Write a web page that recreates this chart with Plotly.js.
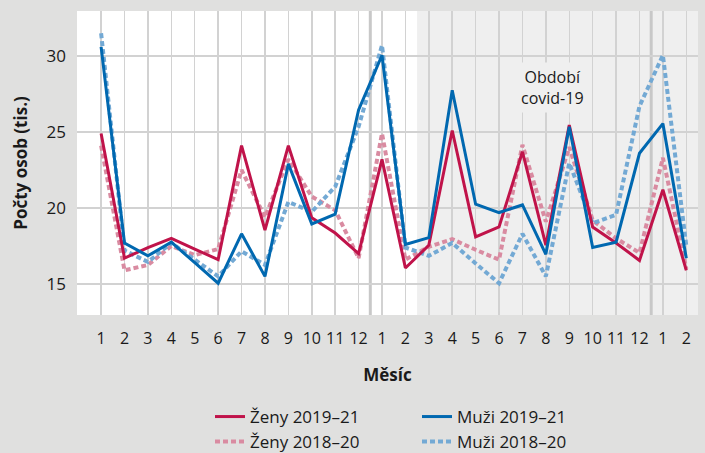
<!DOCTYPE html>
<html>
<head>
<meta charset="utf-8">
<script src="https://cdn.plot.ly/plotly-3.0.1.min.js"></script>
<style>
html,body{margin:0;padding:0;background:#e0e0df;}
#chart{width:705px;height:453px;}
</style>
</head>
<body>
<div id="chart"></div>
<script>
const monthLabels = ['1','2','3','4','5','6','7','8','9','10','11','12','1','2','3','4','5','6','7','8','9','10','11','12','1','2'];
const xPos = [1,2,3,4,5,6,7,8,9,10,11,12,13,14,15,16,17,18,19,20,21,22,23,24,25,26];
const zeny1921 = [24.9,16.7,17.4,18.0,17.3,16.6,24.1,18.55,24.1,19.35,18.35,17.0,23.2,16.05,17.55,25.1,18.1,18.75,23.7,17.55,25.45,18.75,17.7,16.55,21.2,15.9];
const zeny1820 = [24.1,15.9,16.25,17.5,16.9,17.3,22.5,19.4,23.2,20.75,19.85,16.7,24.9,16.6,17.45,17.95,17.25,16.6,24.15,19.1,24.0,19.2,18.0,17.05,23.3,16.0];
const muzi1921 = [30.6,17.7,16.85,17.75,16.4,15.05,18.3,15.5,22.9,18.95,19.6,26.45,30.05,17.6,18.05,27.75,20.25,19.7,20.2,16.95,25.35,17.4,17.75,23.6,25.55,16.7];
const muzi1820 = [31.5,17.2,16.45,17.7,16.6,15.5,17.15,16.25,20.4,19.75,21.4,25.35,30.7,17.4,16.85,17.7,16.35,15.05,18.3,15.5,22.95,19.0,19.55,26.7,30.05,17.5];
const seriesNames = ['Ženy 2019–21','Muži 2019–21','Ženy 2018–20','Muži 2018–20'];
const yearBreaks = [12.5, 24.5];
const covidStart = 14.5;
const covidLabel = 'Období<br>covid-19';

const FONT = 'Open Sans, sans-serif';
const cRed = '#c0134a', cBlue = '#0068b0', cRedL = '#d98ba1', cBlueL = '#73a9d4';

const traces = [
  {x:xPos, y:zeny1820, name:seriesNames[2], mode:'lines', line:{color:cRedL, width:4, dash:'5px,3px'}, legend:'legend2', legendrank:1},
  {x:xPos, y:muzi1820, name:seriesNames[3], mode:'lines', line:{color:cBlueL, width:4, dash:'5px,3px'}, legend:'legend2', legendrank:2},
  {x:xPos, y:zeny1921, name:seriesNames[0], mode:'lines', line:{color:cRed, width:3}, legend:'legend', legendrank:1},
  {x:xPos, y:muzi1921, name:seriesNames[1], mode:'lines', line:{color:cBlue, width:3}, legend:'legend', legendrank:2}
];

const shapes = [
  {type:'rect', xref:'x', yref:'paper', x0:covidStart, x1:26.5, y0:0, y1:1, fillcolor:'#efefef', line:{width:0}, layer:'below'}
].concat(yearBreaks.map(v => ({type:'line', xref:'x', yref:'paper', x0:v, x1:v, y0:0, y1:1, line:{color:'#c8c8c8', width:3}, layer:'below'})));

const legendCommon = {orientation:'h', xref:'container', yref:'container', xanchor:'left', yanchor:'top',
  entrywidth:162, entrywidthmode:'pixels', font:{family:FONT, size:17, color:'#1a1a1a'}, bgcolor:'rgba(0,0,0,0)', traceorder:'normal'};

const layout = {
  width:705, height:453,
  paper_bgcolor:'#e0e0df', plot_bgcolor:'#ffffff',
  margin:{l:77, r:7, t:11, b:138},
  font:{family:FONT, color:'#1a1a1a'},
  showlegend:true,
  xaxis:{range:[-0.03,26.5], tickvals:xPos, ticktext:monthLabels, showgrid:true, gridcolor:'#d2d2d2', gridwidth:1.5,
    zeroline:false, showline:false, ticks:'', ticklabelstandoff:12, tickfont:{family:FONT, size:16, color:'#1a1a1a'},
    title:{text:'<b>Měsíc</b>', font:{family:FONT, size:17, color:'#1a1a1a'}, standoff:21}, fixedrange:true},
  yaxis:{range:[12.96,32.96], tickvals:[15,20,25,30], showgrid:true, gridcolor:'#d2d2d2', gridwidth:1.5,
    zeroline:false, showline:false, ticks:'', ticklabelstandoff:10, tickfont:{family:FONT, size:17, color:'#1a1a1a'},
    title:{text:'<b>Počty osob (tis.)</b>', font:{family:FONT, size:17, color:'#1a1a1a'}, standoff:14}, fixedrange:true},
  legend:Object.assign({}, legendCommon, {x:210/705, y:1-399/453}),
  legend2:Object.assign({}, legendCommon, {x:210/705, y:1-424/453}),
  shapes:shapes,
  annotations:[{x:20.3, y:27.9, xref:'x', yref:'y', text:covidLabel, showarrow:false, bgcolor:'#efefef',
    font:{family:FONT, size:16, color:'#1a1a1a'}, align:'center', borderpad:3}],
  hovermode:false
};

Plotly.newPlot('chart', traces, layout, {displayModeBar:false, staticPlot:true});
</script>
</body>
</html>
